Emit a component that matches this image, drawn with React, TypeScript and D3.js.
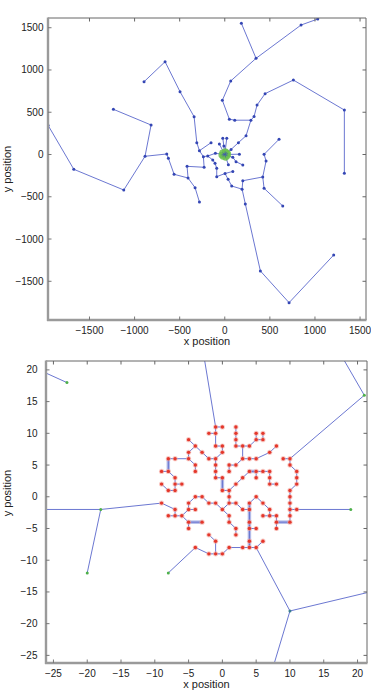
import React from "react";
import * as d3 from "d3";

// tick values
const topTicks = [-1500, -1000, -500, 0, 500, 1000, 1500];
const bottomTicks = [-25, -20, -15, -10, -5, 0, 5, 10, 15, 20];

// top panel: tree branches (x, y in position units)
const topPaths: number[][][] = [
  [[0, 0], [-104, 14], [-189, -18], [-237, -26], [-281, 45], [-310, 140], [-340, 447], [-496, 743], [-662, 1098], [-895, 861]],
  [[-281, 45], [-152, 140]],
  [[-237, -26], [-229, -151], [-418, -140], [-407, -278], [-562, -234], [-625, -45], [-643, 6], [-884, -21], [-817, 349], [-1235, 535]],
  [[-884, -21], [-1120, -420], [-1674, -175], [-1960, 347]],
  [[-407, -278], [-329, -393], [-281, -562]],
  [[0, 0], [70, 60], [151, 140], [236, 222], [290, 406], [325, 450], [358, 585], [447, 720], [761, 881], [1326, 526], [1326, -223]],
  [[290, 406], [111, 406], [51, 418], [-27, 641], [66, 870], [347, 1138], [846, 1532], [1031, 1603]],
  [[347, 1138], [184, 1552]],
  [[-189, -18], [-133, -65], [-108, -104], [-89, -163], [-89, -262], [3, -225], [37, -293], [77, -373], [192, -410], [228, -585], [395, -1378], [713, -1753], [1208, -1189]],
  [[3, -225], [89, -200]],
  [[192, -410], [200, -310], [421, -266], [458, -77], [436, 2], [602, 180]],
  [[421, -266], [436, -400], [643, -609]],
  [[0, 0], [-60, 124]],
  [[0, 0], [-10, 100], [-22, 192]],
  [[0, 0], [22, 192]],
  [[0, 0], [162, 4]],
  [[0, 0], [89, -33], [125, -85], [200, -124]],
  [[0, 0], [40, -120]],
];
const topCore = [[0, 0], [-25, 20], [20, 25], [30, -15], [-20, -25], [5, 35], [-35, -5], [35, 10], [10, -35]];

// bottom panel: grid tree
const gridPaths: number[][][] = [
  [[0, 11], [-1, 11], [-1, 10], [-1, 8], [0, 8], [0, 7], [-1, 6], [-1, 5], [-1, 4], [-1, 3], [0, 3], [0, 1], [1, 1], [1, 0], [1, -1], [0, -2], [-1, -1], [-2, -1], [-3, 0], [-4, 0], [-5, -1], [-5, -2], [-6, -3], [-7, -3], [-7, -2], [-9, -1]],
  [[-2, 10], [-1, 10]],
  [[-5, 9], [-4, 8], [-3, 7], [-2, 6], [-1, 6]],
  [[-4, 8], [-5, 7], [-5, 6], [-7, 6], [-8, 6], [-8, 4], [-9, 4]],
  [[-8, 4], [-7, 3], [-7, 2], [-6, 2]],
  [[-7, 2], [-7, 1], [-8, 1], [-9, 2]],
  [[-5, 6], [-4, 5], [-4, 4]],
  [[2, 11], [2, 10], [2, 9], [2, 8], [3, 8], [4, 8], [5, 9], [5, 10]],
  [[5, 9], [6, 9], [6, 10]],
  [[3, 8], [3, 6], [4, 6], [5, 6], [7, 7], [8, 8]],
  [[3, 6], [2, 5], [1, 5], [1, 4]],
  [[1, 1], [2, 2], [3, 3], [4, 4], [5, 4], [6, 4], [7, 4], [7, 3], [7, 2], [8, 2]],
  [[5, 4], [5, 3]],
  [[1, -1], [2, -1], [3, -2], [4, -2]],
  [[4, -1], [4, -2], [4, -4], [4, -5], [4, -7], [4, -8]],
  [[4, -1], [5, 0], [6, -1], [7, -2], [7, -3], [6, -3]],
  [[7, -3], [8, -3], [8, -4]],
  [[4, -5], [5, -5]],
  [[4, -8], [3, -8], [1, -8], [0, -9], [-1, -9], [-2, -9], [-4, -8], [-8, -12]],
  [[-1, -9], [-1, -7], [-2, -6]],
  [[4, -8], [5, -8], [6, -7]],
  [[5, -8], [10, -18]],
  [[0, -2], [1, -3], [1, -4], [2, -5], [2, -6]],
  [[-6, -3], [-5, -4], [-3, -4]],
  [[-5, -4], [-5, -5]],
  [[-5, -2], [-4, -2]],
  [[-7, -3], [-8, -3]],
  [[-9, -1], [-18, -2], [-20, -12]],
  [[-18, -2], [-40, -2]],
  [[10, 6], [9, 6]],
  [[10, 6], [10, 5], [11, 4], [11, 3], [11, 2], [10, 1], [10, 0], [10, -1], [10, -2], [10, -3], [10, -4], [8, -4], [8, -5]],
  [[10, -2], [11, -2], [19, -2]],
  [[10, 6], [21, 16], [8, 40]],
  [[-1, 11], [-5.5, 40]],
  [[-23, 18], [-40, 26.2]],
  [[10, -18], [40, -10.4]],
  [[10, -18], [3.8, -40]],
];
const thickSegs: number[][][] = [
  [[-8, 6], [-8, 4]],
  [[4, 4], [5, 4]],
  [[4, -1], [4, -8]],
  [[-5, -4], [-3, -4]],
  [[8, -4], [10, -4]],
  [[0, 3], [0, 1]],
];
const leafNodes = [[-23, 18], [-18, -2], [-20, -12], [-8, -12], [19, -2], [21, 16], [10, -18]];

const FONT = "'Liberation Sans', Arial, sans-serif";
const LINE = "#5a68cc";

type Box = { l: number; r: number; t: number; b: number; xd: number[]; yd: number[] };

function Axes({ box, ticks, id, labelGap, yLabelY, children }: any) {
  const { l, r, t, b } = box as Box;
  const x = d3.scaleLinear().domain(box.xd).range([l, r]);
  const y = d3.scaleLinear().domain(box.yd).range([b, t]);
  const fmt = d3.format("");
  return (
    <g>
      <defs>
        <clipPath id={id}>
          <rect x={l} y={t} width={r - l} height={b - t} />
        </clipPath>
      </defs>
      <g clipPath={`url(#${id})`}>{children(x, y)}</g>
      {/* frame */}
      <line x1={l} x2={r} y1={t} y2={t} stroke="#666" strokeWidth={1} />
      <line x1={r} x2={r} y1={t} y2={b} stroke="#666" strokeWidth={1} />
      <line x1={l} x2={l} y1={t - 0.5} y2={b + 1} stroke="#9a9a9a" strokeWidth={2.4} />
      <line x1={l - 1} x2={r + 0.5} y1={b} y2={b} stroke="#9a9a9a" strokeWidth={2.4} />
      {ticks.map((v: number) => (
        <g key={"x" + v}>
          <line x1={x(v)} x2={x(v)} y1={t} y2={t + 3.5} stroke="#666" />
          <line x1={x(v)} x2={x(v)} y1={b} y2={b - 3.5} stroke="#777" />
          <text x={x(v)} y={b + 13.5} textAnchor="middle" fontSize={10} fontFamily={FONT} fill="#222">
            {fmt(v)}
          </text>
        </g>
      ))}
      {ticks.map((v: number) => (
        <g key={"y" + v}>
          <line x1={l} x2={l + 3.5} y1={y(v)} y2={y(v)} stroke="#777" />
          <line x1={r} x2={r - 3.5} y1={y(v)} y2={y(v)} stroke="#666" />
          <text x={l - labelGap} y={y(v)} dy="0.35em" textAnchor="end" fontSize={10} fontFamily={FONT} fill="#222">
            {fmt(v)}
          </text>
        </g>
      ))}
      <text x={(l + r) / 2} y={b + 24.5} textAnchor="middle" fontSize={11} fontFamily={FONT} fill="#222">
        x position
      </text>
      <text
        transform={`translate(11,${yLabelY}) rotate(-90)`}
        textAnchor="middle"
        fontSize={11}
        fontFamily={FONT}
        fill="#222"
      >
        y position
      </text>
    </g>
  );
}

export default function App() {
  const topBox: Box = { l: 48, r: 366, t: 18, b: 320, xd: [-1960, 1566], yd: [-1958, 1615] };
  const botBox: Box = { l: 46, r: 367, t: 361, b: 663, xd: [-26.1, 21.4], yd: [-26.2, 21.4] };
  const line = d3.line<number[]>();

  const leafKey = new Set(leafNodes.map((p) => p.join(",")));
  const gridNodes: number[][] = [];
  const seen = new Set<string>();
  gridPaths.forEach((path) =>
    path.forEach((p) => {
      const k = p.join(",");
      if (seen.has(k) || leafKey.has(k) || Math.abs(p[0]) > 12 || Math.abs(p[1]) > 12) return;
      seen.add(k);
      gridNodes.push(p);
    })
  );
  const topNodes: number[][] = [];
  const seenTop = new Set<string>();
  topPaths.forEach((path) =>
    path.forEach((p) => {
      const k = p.join(",");
      if (seenTop.has(k) || (p[0] === 0 && p[1] === 0)) return;
      seenTop.add(k);
      topNodes.push(p);
    })
  );

  return (
    <svg width={371} height={695} style={{ position: "absolute", left: 0, top: 0, background: "#fff" }}>
      <rect width={371} height={695} fill="#fff" />
      <Axes box={topBox} ticks={topTicks} id="clipTop" labelGap={4.5} yLabelY={169}>
        {(x: any, y: any) => (
          <g>
            {topPaths.map((path, i) => (
              <path
                key={i}
                d={line(path.map((p) => [x(p[0]), y(p[1])])) || ""}
                fill="none"
                stroke={LINE}
                strokeWidth={0.9}
              />
            ))}
            {topNodes.map((p, i) => (
              <circle key={i} cx={x(p[0])} cy={y(p[1])} r={1.5} fill="#3446b4" />
            ))}
            {topCore.map((p, i) => (
              <circle key={"c" + i} cx={x(p[0])} cy={y(p[1])} r={3.2} fill="#6bbf4e" opacity={0.85} />
            ))}
            {topCore.slice(1).map((p, i) => (
              <line
                key={"cl" + i}
                x1={x(0)}
                y1={y(0)}
                x2={x(p[0])}
                y2={y(p[1])}
                stroke="#3d55b0"
                strokeWidth={0.8}
              />
            ))}
          </g>
        )}
      </Axes>
      <Axes box={botBox} ticks={bottomTicks} id="clipBot" labelGap={8.5} yLabelY={493}>
        {(x: any, y: any) => (
          <g>
            {thickSegs.map((s, i) => (
              <path
                key={"t" + i}
                d={line(s.map((p) => [x(p[0]), y(p[1])])) || ""}
                stroke="#b3bbe9"
                strokeWidth={3.5}
                fill="none"
              />
            ))}
            {gridPaths.map((path, i) => (
              <path
                key={i}
                d={line(path.map((p) => [x(p[0]), y(p[1])])) || ""}
                fill="none"
                stroke={LINE}
                strokeWidth={0.9}
              />
            ))}
            {gridNodes.map((p, i) => (
              <g key={"n" + i}>
                <circle cx={x(p[0])} cy={y(p[1])} r={2.6} fill="#f3a79f" opacity={0.6} />
                <circle cx={x(p[0])} cy={y(p[1])} r={1.7} fill="#e4372b" />
              </g>
            ))}
            {leafNodes.map((p, i) => (
              <circle key={"l" + i} cx={x(p[0])} cy={y(p[1])} r={1.5} fill={i === 6 ? "#3a7f8f" : "#4db04a"} />
            ))}
          </g>
        )}
      </Axes>
    </svg>
  );
}
